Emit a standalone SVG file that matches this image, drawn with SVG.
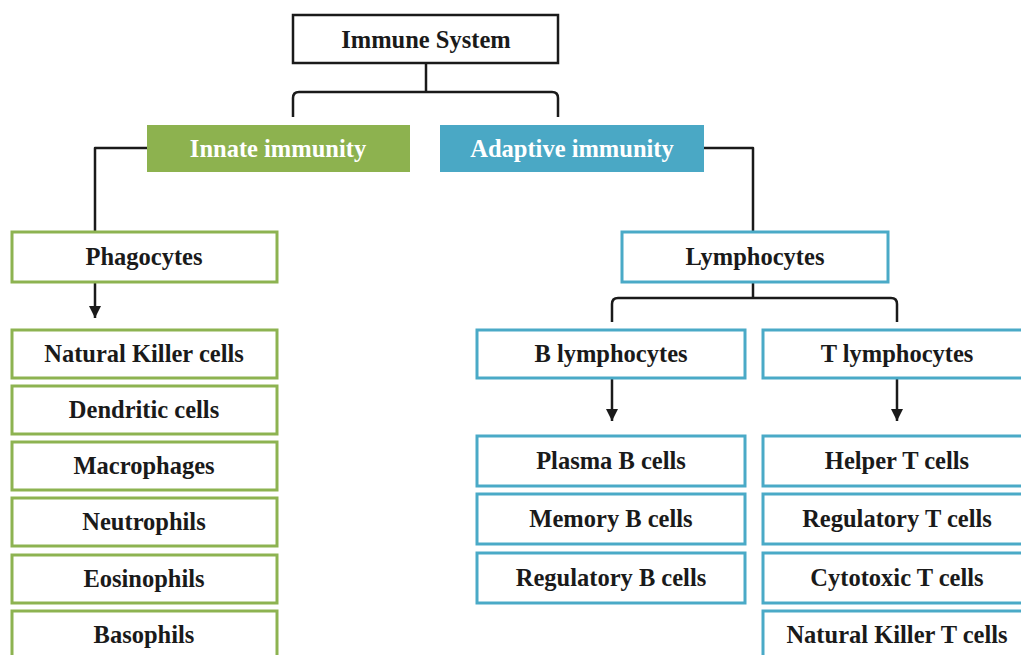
<svg xmlns="http://www.w3.org/2000/svg" width="1021" height="655" viewBox="0 0 1021 655">
<defs>
<style>
text{font-family:"Liberation Serif","Times New Roman",serif;font-weight:bold;font-size:24.5px;text-anchor:middle;fill:#1a1a1a}
.g{fill:#fff;stroke:#8db351;stroke-width:3}
.b{fill:#fff;stroke:#4aaac7;stroke-width:3}
.ln{fill:none;stroke:#1a1a1a;stroke-width:2.5;stroke-linejoin:round}
</style>
<marker id="ah" viewBox="0 0 10 10" refX="10" refY="5" markerWidth="5" markerHeight="5" markerUnits="strokeWidth" orient="auto">
<path d="M0,0 L10,5 L0,10 z" fill="#1a1a1a"/>
</marker>
</defs>
<rect width="1021" height="655" fill="#fff"/>
<g id="connectors">
<path class="ln" d="M426,63 V92"/>
<path class="ln" d="M293,117 V98 Q293,92 299,92 H552 Q558,92 558,98 V117"/>
<path class="ln" d="M147,148 H95 V232"/>
<path class="ln" d="M704,148 H753 V232"/>
<path class="ln" d="M95,283 V318" marker-end="url(#ah)"/>
<path class="ln" d="M753,282 V298"/>
<path class="ln" d="M612,322 V304 Q612,298 618,298 H891 Q897,298 897,304 V322"/>
<path class="ln" d="M612,379 V421" marker-end="url(#ah)"/>
<path class="ln" d="M897,379 V421" marker-end="url(#ah)"/>
</g>
<g id="immune"><rect x="293" y="15" width="265" height="48" fill="#fff" stroke="#1a1a1a" stroke-width="2.5"/><text x="426" y="48">Immune System</text></g>
<g id="innate"><rect x="147" y="125" width="263" height="47" fill="#8db24f"/><text x="278" y="157" style="fill:#fff">Innate immunity</text></g>
<g id="adaptive"><rect x="440" y="125" width="264" height="47" fill="#4aa8c5"/><text x="572" y="157" style="fill:#fff">Adaptive immunity</text></g>
<g id="phagocytes"><rect class="g" x="12" y="232" width="265" height="50"/><text x="144" y="265">Phagocytes</text></g>
<g id="nk"><rect class="g" x="12" y="330" width="265" height="48"/><text x="144" y="362">Natural Killer cells</text></g>
<g id="dendritic"><rect class="g" x="12" y="386" width="265" height="48"/><text x="144" y="418">Dendritic cells</text></g>
<g id="macrophages"><rect class="g" x="12" y="442" width="265" height="48"/><text x="144" y="474">Macrophages</text></g>
<g id="neutrophils"><rect class="g" x="12" y="498" width="265" height="48"/><text x="144" y="530">Neutrophils</text></g>
<g id="eosinophils"><rect class="g" x="12" y="555" width="265" height="48"/><text x="144" y="587">Eosinophils</text></g>
<g id="basophils"><rect class="g" x="12" y="611" width="265" height="52"/><text x="144" y="643">Basophils</text></g>
<g id="lymphocytes"><rect class="b" x="622" y="232" width="266" height="50"/><text x="755" y="265">Lymphocytes</text></g>
<g id="blymph"><rect class="b" x="477" y="330" width="268" height="48"/><text x="611" y="362">B lymphocytes</text></g>
<g id="tlymph"><rect class="b" x="763" y="330" width="268" height="48"/><text x="897" y="362">T lymphocytes</text></g>
<g id="plasma"><rect class="b" x="477" y="436" width="268" height="50"/><text x="611" y="469">Plasma B cells</text></g>
<g id="memory"><rect class="b" x="477" y="494" width="268" height="50"/><text x="611" y="527">Memory B cells</text></g>
<g id="bregs"><rect class="b" x="477" y="553" width="268" height="50"/><text x="611" y="586">Regulatory B cells</text></g>
<g id="helper"><rect class="b" x="763" y="436" width="268" height="50"/><text x="897" y="469">Helper T cells</text></g>
<g id="tregs"><rect class="b" x="763" y="494" width="268" height="50"/><text x="897" y="527">Regulatory T cells</text></g>
<g id="cytotoxic"><rect class="b" x="763" y="553" width="268" height="50"/><text x="897" y="586">Cytotoxic T cells</text></g>
<g id="nkt"><rect class="b" x="763" y="611" width="268" height="52"/><text x="897" y="643">Natural Killer T cells</text></g>
</svg>
